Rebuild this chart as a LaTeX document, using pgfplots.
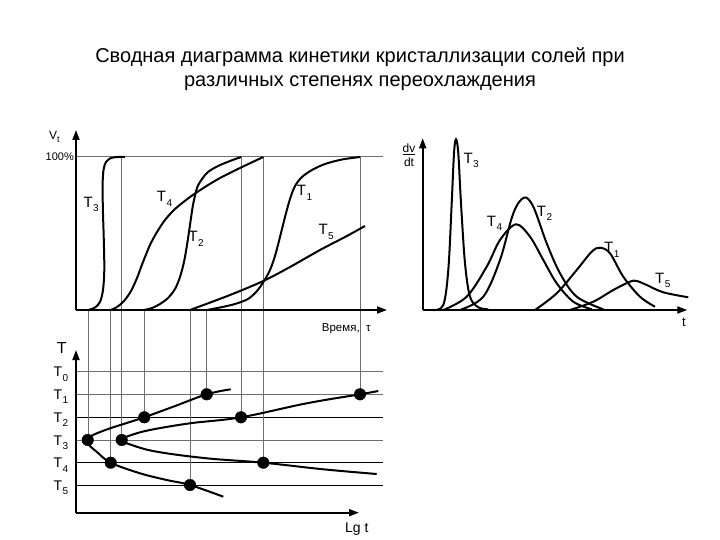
\documentclass[border=0pt]{standalone}
\usepackage{pgfplots}
\pgfplotsset{compat=1.18}
\usepackage{fontspec}
\setmainfont{Liberation Sans}
\usetikzlibrary{arrows.meta}
\definecolor{gl}{RGB}{110,110,110}
\newcommand{\vl}[3]{\addplot[gl,line width=1pt] coordinates {(#1,#2) (#1,#3)};}
\newcommand{\hl}[2]{\addplot[#2,line width=1pt] coordinates {(76,#1) (383,#1)};}
\newcommand{\sub}[1]{\raisebox{-4.5pt}{\fontsize{10}{10}\selectfont #1}}
\newcommand{\TT}[4]{\node[anchor=base west,font=\fontsize{#4}{#4}\selectfont,inner sep=0pt] at (axis cs:#1,#2) {T\kern0.5pt\sub{#3}};}
\begin{document}
\begin{tikzpicture}
\begin{axis}[scale only axis, width=720pt, height=540pt,
  xmin=0, xmax=720, ymin=0, ymax=540, y dir=reverse,
  hide axis, clip=false]
% ---------- guide lines ----------
\hl{157}{gl}
\hl{371.7}{gl}
\hl{394.3}{gl}
\hl{417.3}{black}
\hl{440}{gl}
\hl{462.7}{black}
\hl{485}{black}
\vl{88.3}{310}{440}
\vl{110.7}{310}{462.7}
\vl{121.7}{157}{440}
\vl{144.3}{310}{417.3}
\vl{190}{310}{485}
\vl{206.7}{310}{394.3}
\vl{241}{157}{417.3}
\vl{263.3}{157}{462.7}
\vl{360}{157}{394.3}
% ---------- axes ----------
\addplot[black,line width=1.8pt,-{Triangle[length=10pt,width=7pt]}] coordinates {(76,310) (76,130)};
\addplot[black,line width=1.8pt,-{Triangle[length=10pt,width=7pt]}] coordinates {(76,310) (387,310)};
\addplot[black,line width=1.8pt,-{Triangle[length=10pt,width=7pt]}] coordinates {(76,512.7) (76,350)};
\addplot[black,line width=1.8pt,-{Triangle[length=10pt,width=7pt]}] coordinates {(76,512.7) (359,512.7)};
\addplot[black,line width=1.8pt,-{Triangle[length=10pt,width=7pt]}] coordinates {(422.7,310) (422.7,138.3)};
\addplot[black,line width=1.8pt,-{Triangle[length=10pt,width=7pt]}] coordinates {(422.7,310) (687.3,310)};
% ---------- kinetic curves (upper left) ----------
\addplot[black,line width=2pt,smooth,tension=0.5] coordinates {
 (88.3,310) (95,307.5) (100,302) (103,290) (104.3,270) (103.8,240) (102.9,210)
 (102.6,185) (103.5,170) (106,162) (111,158) (118,157) (125,157)};
\addplot[black,line width=2pt,smooth,tension=0.5] coordinates {
 (110.7,310) (117,307) (124,301) (131,291) (137,278) (143,262) (150,245) (157,232)
 (165,220) (175,209) (190,197) (205,187) (220,178) (240,168) (263.3,157)};
\addplot[black,line width=2pt,smooth,tension=0.5] coordinates {
 (144.3,310) (152,308) (160,304) (168,298) (175,289) (180,277) (184,262) (187,245)
 (190,225) (193,205) (197,188) (202,179) (208,172) (218,166) (230,161) (241,157)};
\addplot[black,line width=2pt,smooth,tension=0.5] coordinates {
 (206.7,310) (220,307.5) (235,304) (248,299) (257,291) (264,281) (270,270) (275,256)
 (280,237) (285,217) (290,199) (295,186) (302,177) (312,170) (325,164) (342,159.5) (360,157)};
\addplot[black,line width=2pt,smooth,tension=0.5] coordinates {
 (190,310) (230,295) (263.3,281) (290,267) (320,250) (345,237) (365,226)};
% ---------- C-curves (lower left) ----------
\addplot[black,line width=2pt,smooth,tension=0.6] coordinates {
 (230.7,389.3) (206.7,394.3) (173.3,406.7) (144.3,417.3) (126.7,423) (106.7,429.5)
 (92,435.5) (86,440) (90,446) (97,452) (110.7,462.7) (140,473.3) (166.7,480)
 (190,485) (223.3,496.7)};
\addplot[black,line width=2pt,smooth,tension=0.6] coordinates {
 (378.3,391) (360,394.3) (306.7,403.3) (241,417.3) (190,423.3) (150,430) (130,435.5)
 (121.7,440) (131.7,445) (156.7,451.7) (206.7,458.3) (263.3,462.7) (323.3,469.3) (376.7,474)};
\addplot[only marks,mark=*,mark size=5.8pt,black] coordinates {
 (87.7,440) (110.7,462.7) (144.3,417.3) (190,485) (206.7,394.3)
 (121.7,440) (241,417.3) (263.3,462.7) (360,394.3)};
% ---------- rate curves (right) ----------
\addplot[black,line width=2pt,smooth,tension=0.55] coordinates {
 (433.3,310) (443.3,305) (448.3,270) (451.7,203.3) (454,153.3) (456,139.3)
 (458.3,153.3) (461,203.3) (465,263.3) (470,296.7) (478.3,307.3) (488.3,309.3)};
\addplot[black,line width=2pt,smooth,tension=0.55] coordinates {
 (443.3,310) (466.7,296.7) (486.7,266.7) (500,240) (516,224.3) (530,236.7)
 (543.3,260) (556.7,283.3) (573.3,301.7) (591.7,309.3)};
\addplot[black,line width=2pt,smooth,tension=0.55] coordinates {
 (460,310) (483.3,296.7) (500,260) (513.3,213.3) (524,197.7) (533.3,206.7)
 (546.7,243.3) (560,273.3) (576.7,296.7) (603.3,309.3)};
\addplot[black,line width=2pt,smooth,tension=0.55] coordinates {
 (535,310) (556.7,293.3) (576.7,270) (591.7,251.7) (600,247.7) (610,253.3)
 (623.3,276.7) (640,296.7) (655,306.7)};
\addplot[black,line width=2pt,smooth,tension=0.55] coordinates {
 (570,310) (593.3,301.7) (613.3,290) (630,281.7) (636.7,281) (646.7,285)
 (663.3,292.3) (688.3,297.3)};
% ---------- texts ----------
\node[anchor=base,font=\fontsize{20}{24}\selectfont] at (axis cs:360,63) {Сводная диаграмма кинетики кристаллизации солей при};
\node[anchor=base,font=\fontsize{20}{24}\selectfont] at (axis cs:360,87) {различных степенях переохлаждения};
\node[anchor=base west,font=\fontsize{12}{12}\selectfont,inner sep=0pt] at (axis cs:49,140) {V\raisebox{-3pt}{\fontsize{9}{9}\selectfont t}};
\node[anchor=east,font=\fontsize{11}{11}\selectfont,inner sep=0pt] at (axis cs:74,157) {100\%};
\node[anchor=base west,font=\fontsize{11.5}{12}\selectfont,inner sep=0pt] at (axis cs:321.7,331) {Время,\ \ τ};
\node[anchor=base west,font=\fontsize{16}{16}\selectfont,inner sep=0pt] at (axis cs:56.7,353.3) {T};
\node[anchor=base west,font=\fontsize{14}{14}\selectfont,inner sep=0pt] at (axis cs:345,532.7) {Lg t};
\node[anchor=base west,font=\fontsize{13}{13}\selectfont,inner sep=0pt] at (axis cs:682,326) {t};
\node[font=\fontsize{12}{13}\selectfont,inner sep=0pt,align=center] at (axis cs:409,155) {\underline{dv}\\[1pt]dt};
\TT{53.3}{376.7}{0}{14}
\TT{53.3}{399.3}{1}{14}
\TT{53.3}{422.3}{2}{14}
\TT{53.3}{445}{3}{14}
\TT{53.3}{467.7}{4}{14}
\TT{53.3}{490}{5}{14}
\TT{83.3}{207.3}{3}{15}
\TT{156.7}{201.7}{4}{15}
\TT{188.3}{241.7}{2}{15}
\TT{296.7}{196}{1}{15}
\TT{318.3}{235}{5}{15}
\TT{463.3}{163.3}{3}{15}
\TT{486.7}{226}{4}{15}
\TT{536.7}{216}{2}{15}
\TT{604}{252.7}{1}{15}
\TT{655}{283.3}{5}{15}
\end{axis}
\path (current axis.south west) rectangle (current axis.north east);
\end{tikzpicture}
\end{document}
